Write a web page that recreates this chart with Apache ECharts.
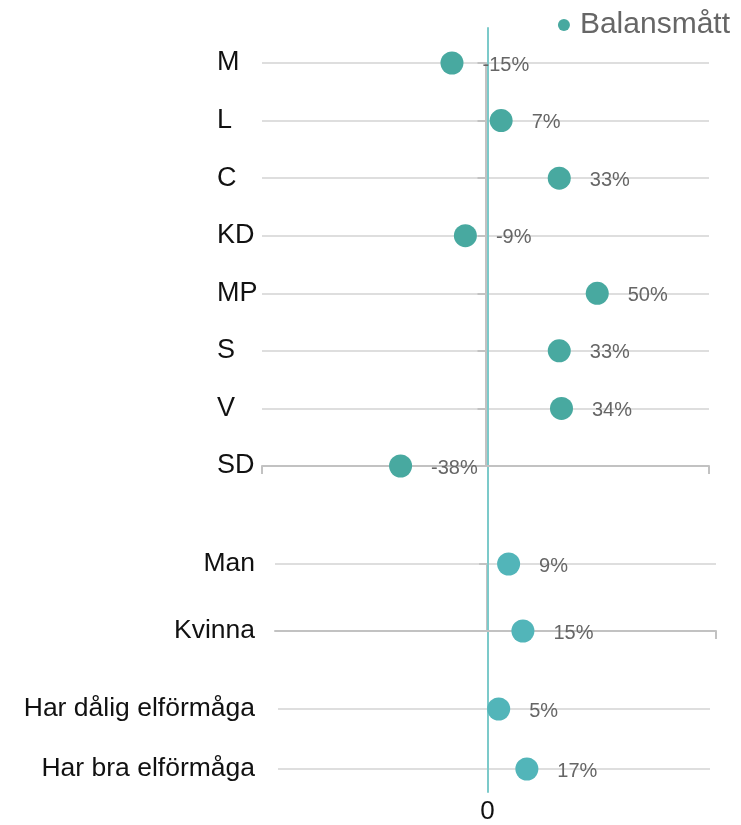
<!DOCTYPE html>
<html>
<head>
<meta charset="utf-8">
<title>Balansmått</title>
<script src="https://cdn.jsdelivr.net/npm/echarts@6/dist/echarts.min.js"></script>
<style>
    html, body { margin: 0; padding: 0; background: #fff; }
    #chart { width: 741px; height: 825px; }
</style>
</head>
<body>
<div id="chart"></div>
<script>
var parties = ['M', 'L', 'C', 'KD', 'MP', 'S', 'V', 'SD'];
var partyValues = [-15, 7, 33, -9, 50, 33, 34, -38];
var genders = ['Man', 'Kvinna'];
var genderValues = [9, 15];
var abilities = ['Har dålig elförmåga', 'Har bra elförmåga'];
var abilityValues = [5, 17];
var seriesName = 'Balansmått';

var font = '"Liberation Sans", Arial, sans-serif';
var partyColor = '#48a9a0';
var groupColor = '#52b5b9';
var gridLine = '#dedede';
var axisGray = '#c2c2c2';

var toPoints = function(cats, vals) {
    var out = [];
    for (var i = 0; i < cats.length; i++) {
        out.push([vals[i], cats[i]]);
    }
    return out;
};

// category axis that carries the labels and the horizontal lines
var labelAxis = function(gridIndex, cats, align, margin, size, lift) {
    return {
        type: 'category',
        gridIndex: gridIndex,
        data: cats,
        inverse: true,
        boundaryGap: false,
        position: 'left',
        axisLine: { show: false, onZero: false },
        axisTick: { show: false },
        axisLabel: {
            interval: 0,
            align: align,
            margin: margin,
            padding: [0, 0, lift, 0],
            fontFamily: font,
            fontSize: size,
            color: '#111'
        },
        splitLine: { show: true, interval: 0, lineStyle: { color: gridLine, width: 2 } }
    };
};

// second category axis sitting on x = 0 (gray line with small ticks)
var zeroAxis = function(gridIndex, cats) {
    return {
        type: 'category',
        gridIndex: gridIndex,
        data: cats,
        inverse: true,
        boundaryGap: false,
        position: 'left',
        axisLine: { show: true, onZero: true, lineStyle: { color: axisGray, width: 2 } },
        axisTick: { show: true, interval: 0, length: 8, lineStyle: { color: axisGray, width: 2 } },
        axisLabel: { show: false },
        splitLine: { show: false }
    };
};

var valueAxis = function(gridIndex, min, max, lineShow, tickValues) {
    return {
        type: 'value',
        gridIndex: gridIndex,
        min: min,
        max: max,
        position: 'bottom',
        axisLine: { show: lineShow, onZero: false, lineStyle: { color: axisGray, width: 2 } },
        axisTick: {
            show: tickValues.length > 0,
            customValues: tickValues,
            length: 8,
            lineStyle: { color: axisGray, width: 2 }
        },
        axisLabel: { show: false },
        splitLine: { show: false }
    };
};

var dotSeries = function(axisIndex, yIndex, cats, vals, color) {
    return {
        name: seriesName,
        type: 'scatter',
        xAxisIndex: axisIndex,
        yAxisIndex: yIndex,
        symbolSize: 23,
        itemStyle: { color: color, opacity: 1 },
        label: {
            show: true,
            position: 'right',
            distance: 19,
            offset: [0, 2],
            fontFamily: font,
            fontSize: 20,
            color: '#666',
            formatter: function(p) {
                return p.value[0] + '%';
            }
        },
        data: toPoints(cats, vals)
    };
};

var chart = echarts.init(document.getElementById('chart'));
var option = {
    backgroundColor: '#fff',
    animation: false,
    legend: {
        data: [seriesName],
        right: 6,
        top: 5,
        icon: 'circle',
        itemWidth: 22,
        itemHeight: 12,
        textStyle: { fontFamily: font, fontSize: 30, color: '#666' }
    },
    grid: [
        { left: 262, right: 32, top: 63, height: 403 },
        { left: 275, right: 25, top: 564, height: 67 },
        { left: 278, right: 31, top: 709, height: 60 },
        { left: 263, right: 29, top: 28, bottom: 30 }
    ],
    xAxis: [
        valueAxis(0, -100, 100, true, [-100, 100]),
        valueAxis(1, -89, 96, true, [96]),
        valueAxis(2, -89, 95, false, []),
        {
            type: 'value',
            gridIndex: 3,
            min: -100,
            max: 100,
            position: 'bottom',
            axisLine: { show: false, onZero: false },
            axisTick: { show: false },
            axisLabel: {
                customValues: [0],
                margin: 7,
                fontFamily: font,
                fontSize: 26,
                color: '#111'
            },
            splitLine: { show: false }
        }
    ],
    yAxis: [
        labelAxis(0, parties, 'left', 45, 27, 6),
        zeroAxis(0, parties),
        labelAxis(1, genders, 'right', 20, 26.5, 0),
        zeroAxis(1, genders),
        labelAxis(2, abilities, 'right', 23, 26.5, 0),
        {
            type: 'value',
            gridIndex: 3,
            min: 0,
            max: 1,
            axisLine: { show: true, onZero: true, lineStyle: { color: '#7ccaca', width: 2 } },
            axisTick: { show: false },
            axisLabel: { show: false },
            splitLine: { show: false }
        }
    ],
    series: [
        dotSeries(0, 0, parties, partyValues, partyColor),
        dotSeries(1, 2, genders, genderValues, groupColor),
        dotSeries(2, 4, abilities, abilityValues, groupColor)
    ]
};
chart.setOption(option);
</script>
</body>
</html>
